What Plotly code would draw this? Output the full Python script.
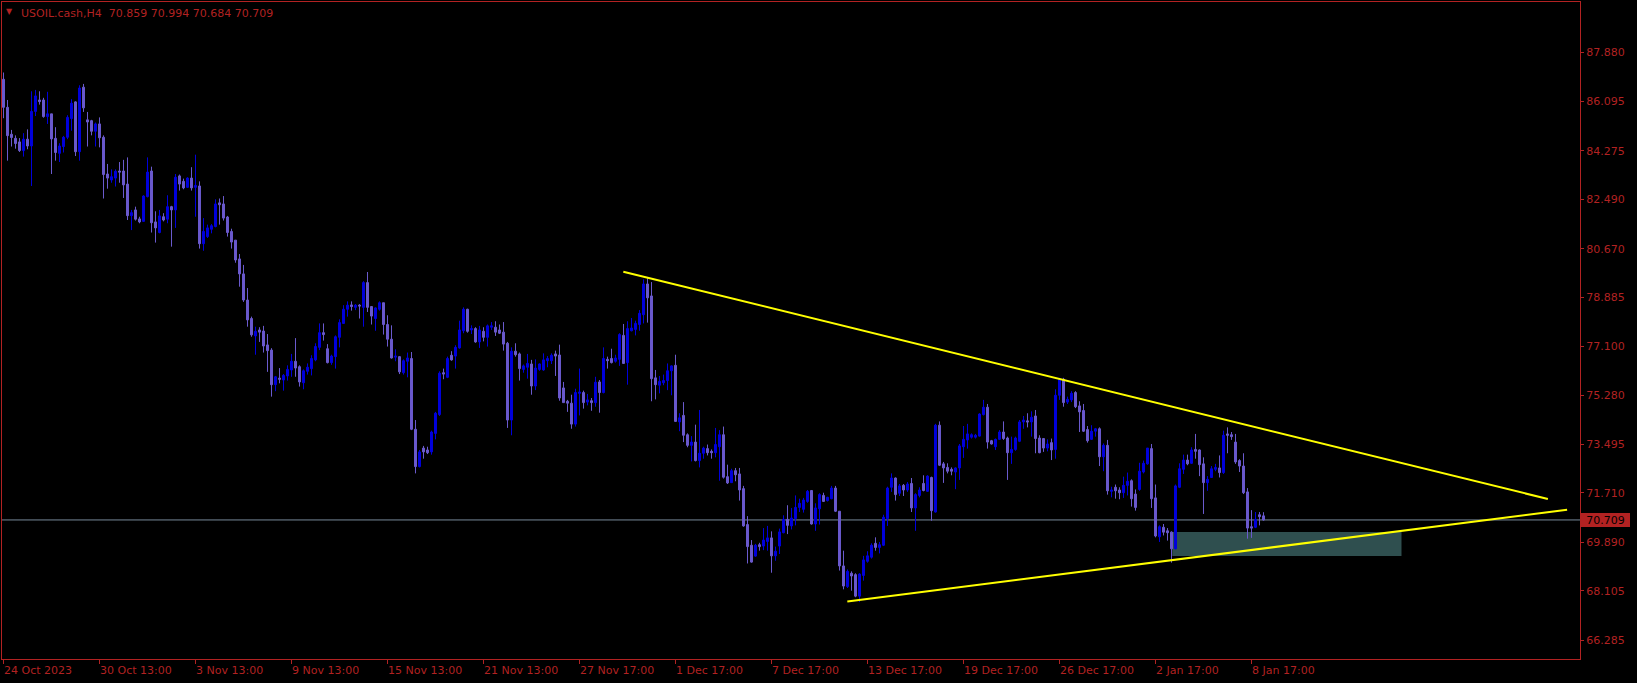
import plotly.graph_objects as go

# USOIL.cash H4 bars, oldest first
opens = [
    86.90, 85.87, 84.88, 84.73, 84.60, 84.28, 84.70, 84.45, 85.72, 86.14,
    86.14, 85.53, 85.63, 84.73, 84.18, 84.43, 84.77, 85.46, 86.07, 84.24,
    86.61, 85.41, 85.38, 84.99, 85.26, 84.77, 83.42, 83.20, 83.27, 83.53,
    83.53, 83.05, 81.89, 82.10, 81.77, 81.68, 82.59, 83.53, 81.66, 81.27,
    81.85, 81.76, 82.22, 82.10, 83.35, 83.15, 82.93, 83.27, 82.93, 82.98,
    80.86, 81.12, 81.39, 81.49, 82.36, 82.32, 81.84, 81.31, 80.99, 80.30,
    79.75, 78.79, 78.11, 77.47, 77.69, 77.65, 77.14, 76.95, 75.68, 75.92,
    75.85, 76.00, 76.22, 76.54, 76.34, 75.75, 76.17, 76.27, 76.59, 77.05,
    77.59, 77.00, 76.49, 76.71, 77.42, 77.93, 78.45, 78.61, 78.52, 78.60,
    78.52, 79.43, 78.55, 78.11, 78.45, 78.69, 77.89, 77.35, 76.69, 76.71,
    76.12, 76.54, 76.64, 74.04, 72.67, 73.35, 73.28, 73.21, 73.89, 74.58,
    76.12, 75.95, 76.76, 76.73, 77.03, 77.66, 78.45, 77.69, 77.74, 77.25,
    77.64, 77.42, 77.79, 77.79, 77.69, 77.61, 77.20, 74.38, 76.91, 76.81,
    76.24, 76.32, 76.44, 75.63, 76.24, 76.22, 76.56, 76.56, 76.81, 76.77,
    75.56, 75.07, 75.00, 74.23, 75.36, 75.39, 75.04, 75.09, 75.02, 75.78,
    75.39, 76.61, 76.64, 76.54, 76.61, 77.49, 76.49, 77.66, 77.71, 77.89,
    78.25, 79.38, 78.94, 75.93, 75.66, 75.75, 75.83, 76.19, 76.39, 74.31,
    74.55, 73.84, 73.45, 73.57, 72.89, 73.16, 73.33, 73.23, 73.18, 73.40,
    73.84, 72.30, 72.08, 72.52, 72.40, 71.86, 70.54, 69.78, 69.38, 69.80,
    69.75, 69.92, 70.05, 69.39, 69.75, 70.24, 70.73, 70.49, 70.76, 71.17,
    71.10, 71.39, 71.79, 70.56, 71.12, 71.61, 71.42, 71.49, 71.88, 71.03,
    69.02, 68.26, 68.75, 68.70, 67.91, 68.67, 69.19, 69.34, 69.85, 69.70,
    69.78, 70.76, 71.91, 72.25, 71.69, 71.98, 71.81, 72.05, 71.15, 71.61,
    72.05, 71.76, 72.27, 71.00, 74.19, 72.77, 72.64, 72.57, 72.47, 72.62,
    73.40, 73.65, 73.75, 73.75, 73.79, 74.58, 74.85, 73.62, 73.40, 73.67,
    73.94, 73.72, 73.18, 73.30, 73.60, 74.31, 74.35, 74.31, 74.53, 73.72,
    73.70, 73.35, 73.55, 73.30, 75.29, 75.88, 75.04, 75.12, 75.39, 74.90,
    74.73, 74.03, 73.67, 73.97, 74.06, 73.03, 73.45, 71.76, 71.91, 71.81,
    71.71, 71.98, 72.15, 71.66, 71.83, 72.47, 72.77, 73.33, 71.52, 70.09,
    70.44, 70.31, 70.26, 69.65, 71.91, 72.57, 72.91, 72.79, 73.30, 73.28,
    72.77, 72.08, 72.27, 72.57, 72.62, 72.45, 73.87, 73.84, 73.57, 72.89,
    72.69, 71.74, 70.46, 70.44, 70.90, 70.859,
]
highs = [
    87.15, 86.14, 85.04, 84.84, 84.74, 84.92, 85.06, 86.46, 86.51, 86.46,
    86.22, 86.44, 85.63, 85.14, 84.55, 84.82, 85.58, 86.17, 86.09, 86.68,
    86.73, 85.70, 85.41, 85.31, 85.50, 84.84, 83.79, 83.59, 83.59, 83.86,
    83.94, 84.03, 82.10, 82.22, 81.85, 82.64, 84.03, 83.69, 82.05, 82.10,
    81.98, 82.64, 82.25, 83.42, 83.40, 83.25, 83.30, 83.67, 84.13, 83.15,
    81.80, 81.56, 81.58, 82.49, 82.52, 82.61, 81.88, 81.41, 80.99, 80.48,
    80.08, 79.23, 78.18, 77.81, 77.79, 77.84, 77.54, 77.02, 76.00, 76.29,
    76.07, 76.39, 76.81, 77.39, 76.39, 76.24, 76.46, 76.76, 77.20, 77.93,
    77.93, 77.17, 76.78, 77.49, 78.08, 78.60, 78.74, 78.74, 78.64, 78.64,
    79.48, 79.82, 78.57, 78.52, 78.74, 78.69, 78.23, 77.86, 76.98, 76.73,
    76.61, 76.86, 76.88, 74.38, 73.28, 73.43, 73.40, 73.99, 74.68, 76.17,
    76.27, 76.71, 76.91, 77.13, 78.03, 78.52, 78.47, 77.86, 77.79, 77.84,
    77.79, 77.89, 77.98, 78.01, 77.89, 77.98, 77.25, 77.05, 77.20, 76.86,
    76.42, 76.81, 76.59, 76.61, 76.46, 76.83, 76.73, 76.83, 76.93, 77.15,
    75.78, 75.12, 75.31, 75.53, 76.27, 75.46, 75.34, 75.19, 75.97, 75.85,
    77.05, 76.71, 77.00, 76.78, 77.57, 77.91, 78.01, 78.13, 78.03, 78.42,
    79.55, 79.62, 79.45, 76.22, 76.00, 76.05, 76.46, 76.39, 76.78, 74.63,
    75.04, 73.89, 73.79, 74.21, 74.75, 73.40, 73.48, 73.30, 74.09, 74.01,
    74.14, 72.74, 72.59, 72.62, 72.62, 71.96, 70.85, 69.97, 69.83, 69.87,
    70.41, 70.49, 70.29, 69.73, 70.39, 70.88, 71.25, 71.15, 71.61, 71.49,
    71.52, 71.81, 71.81, 71.32, 71.69, 71.71, 71.56, 71.96, 71.96, 71.03,
    69.58, 68.89, 68.82, 68.75, 68.75, 69.39, 69.56, 69.85, 70.07, 69.90,
    70.90, 71.93, 72.42, 72.27, 72.03, 72.03, 72.10, 72.25, 71.69, 71.91,
    72.35, 72.35, 72.30, 74.24, 74.33, 72.84, 72.79, 72.64, 72.64, 73.50,
    74.16, 74.24, 73.89, 73.87, 74.63, 75.12, 74.97, 73.65, 73.70, 74.01,
    74.33, 73.77, 73.77, 73.77, 74.38, 74.53, 74.63, 74.70, 74.75, 73.82,
    73.72, 73.67, 73.70, 75.51, 75.93, 75.93, 75.24, 75.44, 75.44, 75.07,
    74.97, 74.16, 74.19, 74.09, 74.11, 73.52, 73.65, 71.93, 72.01, 71.91,
    72.30, 72.45, 72.20, 71.83, 72.81, 72.89, 73.35, 73.50, 72.01, 70.51,
    70.56, 70.41, 70.29, 72.01, 72.79, 73.11, 73.11, 73.38, 73.87, 73.30,
    73.01, 72.32, 72.69, 72.77, 73.08, 73.99, 74.11, 73.94, 73.87, 72.94,
    73.16, 71.88, 71.07, 71.00, 71.00, 70.994,
]
lows = [
    85.47, 83.91, 84.43, 84.35, 84.23, 84.06, 84.33, 82.98, 85.55, 85.97,
    85.49, 85.26, 83.42, 83.91, 83.86, 84.21, 84.70, 85.01, 84.08, 83.91,
    85.70, 84.43, 84.84, 84.43, 84.40, 82.52, 82.88, 83.10, 82.96, 83.10,
    82.54, 81.73, 81.36, 81.71, 81.61, 81.66, 82.56, 81.27, 80.90, 81.24,
    81.68, 81.61, 80.75, 81.44, 82.81, 82.86, 82.91, 82.81, 81.85, 80.68,
    80.60, 81.07, 81.24, 81.46, 81.56, 81.71, 81.12, 80.68, 80.16, 79.28,
    78.72, 77.81, 77.44, 76.78, 77.25, 76.86, 76.15, 75.24, 75.44, 75.73,
    75.46, 75.83, 75.97, 75.97, 75.61, 75.51, 76.05, 76.02, 76.54, 76.95,
    77.30, 76.46, 76.41, 76.27, 77.05, 77.91, 78.18, 78.40, 78.42, 78.11,
    77.81, 78.35, 77.89, 77.66, 78.40, 77.52, 77.08, 76.64, 76.54, 76.07,
    76.05, 75.95, 74.01, 72.42, 72.64, 72.96, 73.13, 73.11, 73.67, 74.53,
    75.88, 75.92, 76.56, 76.27, 77.00, 77.57, 77.59, 77.54, 77.22, 77.03,
    77.27, 77.08, 77.69, 77.47, 77.54, 76.93, 74.09, 73.82, 76.71, 75.83,
    76.12, 75.90, 75.31, 75.48, 76.19, 76.19, 76.32, 76.44, 76.00, 75.09,
    75.02, 74.68, 74.06, 74.14, 74.55, 74.80, 74.92, 74.72, 74.87, 74.65,
    75.36, 76.27, 76.46, 76.49, 76.37, 76.44, 75.68, 77.64, 77.49, 77.66,
    77.93, 77.96, 75.07, 75.14, 75.36, 75.66, 75.48, 75.29, 74.31, 73.97,
    73.57, 73.38, 72.86, 72.86, 72.64, 72.96, 73.08, 72.96, 73.01, 72.15,
    72.23, 72.03, 72.07, 72.13, 71.42, 70.46, 69.11, 69.14, 69.36, 69.58,
    69.60, 69.58, 68.77, 69.21, 69.46, 70.22, 70.19, 70.36, 70.51, 71.00,
    70.98, 71.34, 70.54, 70.31, 70.54, 71.37, 71.39, 71.47, 71.00, 68.85,
    68.16, 68.21, 68.11, 67.87, 67.69, 68.48, 69.14, 69.29, 69.58, 69.48,
    69.75, 70.49, 71.74, 71.42, 71.59, 71.59, 71.74, 71.00, 70.31, 71.54,
    71.76, 71.74, 70.68, 70.98, 72.69, 72.07, 72.42, 72.35, 71.84, 72.18,
    72.99, 73.33, 73.70, 73.70, 73.77, 74.55, 73.33, 73.48, 73.28, 73.65,
    73.65, 72.18, 72.77, 73.25, 73.57, 74.06, 74.11, 73.77, 73.16, 73.16,
    73.21, 73.23, 72.91, 72.96, 75.12, 74.87, 74.97, 75.04, 74.82, 73.94,
    73.94, 73.55, 73.65, 73.77, 72.69, 72.50, 71.64, 71.54, 71.49, 71.47,
    71.52, 71.61, 71.20, 71.05, 71.78, 72.42, 72.74, 71.15, 70.07, 69.90,
    70.14, 69.95, 69.14, 69.63, 71.88, 72.40, 72.72, 72.77, 72.96, 72.32,
    70.93, 71.78, 72.25, 72.50, 72.27, 72.40, 73.16, 73.65, 72.77, 72.47,
    71.66, 70.02, 70.05, 70.41, 70.51, 70.684,
]
closes = [
    85.87, 84.83, 84.76, 84.54, 84.28, 84.70, 84.45, 85.72, 86.29, 86.08,
    85.53, 85.63, 84.71, 84.21, 84.45, 84.77, 85.50, 86.02, 84.24, 86.58,
    85.85, 85.33, 84.99, 85.26, 84.75, 83.40, 83.27, 83.32, 83.52, 83.49,
    83.02, 81.89, 82.00, 81.76, 81.66, 82.61, 83.49, 81.63, 81.44, 81.88,
    81.73, 82.22, 82.10, 83.30, 83.05, 82.91, 83.27, 82.91, 83.00, 80.86,
    81.31, 81.44, 81.52, 82.32, 82.29, 81.80, 81.27, 80.92, 80.26, 79.75,
    78.79, 78.06, 77.51, 77.64, 77.61, 77.10, 76.93, 75.68, 75.97, 75.88,
    76.02, 76.24, 76.54, 76.29, 75.78, 76.19, 76.32, 76.64, 77.08, 77.59,
    77.52, 76.49, 76.73, 77.44, 77.96, 78.45, 78.60, 78.55, 78.60, 78.57,
    79.43, 78.52, 78.20, 78.50, 78.69, 77.89, 77.35, 76.66, 76.73, 76.15,
    76.56, 76.66, 74.04, 72.67, 73.21, 73.21, 73.18, 73.94, 74.63, 76.10,
    76.07, 76.64, 76.59, 77.05, 77.69, 78.45, 77.64, 77.74, 77.25, 77.69,
    77.42, 77.84, 77.84, 77.61, 77.57, 77.17, 74.38, 76.91, 76.78, 76.27,
    76.37, 76.46, 75.63, 76.29, 76.44, 76.59, 76.64, 76.76, 76.73, 75.19,
    75.02, 75.00, 74.23, 75.39, 75.41, 75.02, 75.12, 75.02, 75.77, 75.39,
    76.64, 76.56, 76.49, 76.66, 77.52, 76.46, 77.74, 77.76, 77.93, 78.30,
    79.38, 78.87, 75.90, 75.68, 75.80, 75.83, 76.19, 76.37, 74.33, 74.46,
    73.82, 73.45, 73.57, 72.89, 73.16, 73.35, 73.18, 73.18, 73.48, 73.84,
    72.28, 72.07, 72.52, 72.37, 71.81, 70.49, 69.73, 69.16, 69.78, 69.73,
    69.97, 70.05, 69.39, 69.56, 70.27, 70.73, 70.51, 70.78, 71.17, 71.32,
    71.44, 71.76, 70.56, 71.15, 71.64, 71.39, 71.54, 71.88, 71.03, 69.02,
    68.28, 68.82, 68.65, 67.91, 68.72, 69.24, 69.39, 69.78, 69.70, 69.80,
    70.81, 71.88, 72.25, 71.64, 71.96, 71.81, 72.03, 71.15, 71.64, 71.81,
    71.79, 72.32, 71.05, 74.19, 72.72, 72.62, 72.50, 72.50, 72.62, 73.43,
    73.67, 73.87, 73.84, 73.82, 74.60, 74.85, 73.57, 73.50, 73.67, 73.94,
    73.70, 73.18, 73.30, 73.72, 74.31, 74.38, 74.31, 74.48, 73.70, 73.18,
    73.35, 73.50, 73.28, 75.29, 75.88, 75.02, 75.14, 75.36, 74.87, 74.68,
    73.97, 73.62, 73.97, 74.06, 73.03, 73.45, 71.78, 71.81, 71.78, 71.71,
    71.98, 72.13, 71.49, 71.17, 72.50, 72.79, 73.35, 71.49, 70.12, 70.46,
    70.26, 70.24, 69.65, 71.96, 72.59, 72.91, 72.77, 73.28, 73.23, 72.74,
    72.08, 72.20, 72.59, 72.64, 72.45, 73.82, 73.82, 73.77, 72.84, 72.69,
    71.71, 70.41, 70.41, 70.73, 70.83, 70.709,
]
bars = list(range(len(closes)))

# time axis labels (bar index -> label)
time_ticks = [0, 24, 48, 72, 96, 120, 144, 168, 192, 216, 240, 264, 288, 312]
time_labels = [
    "24 Oct 2023", "30 Oct 13:00", "3 Nov 13:00", "9 Nov 13:00", "15 Nov 13:00",
    "21 Nov 13:00", "27 Nov 17:00", "1 Dec 17:00", "7 Dec 17:00", "13 Dec 17:00",
    "19 Dec 17:00", "26 Dec 17:00", "2 Jan 17:00", "8 Jan 17:00",
]
price_ticks = [66.285, 68.105, 69.890, 71.710, 73.495, 75.280, 77.100,
               78.885, 80.670, 82.490, 84.275, 86.095, 87.880]

# drawn objects: triangle trendlines and a demand zone
upper_x = [154.95, 386.1]
upper_y = [79.83, 71.48]
lower_x = [210.95, 390.9]
lower_y = [67.71, 71.085]
zone_x = [292.2, 349.5]
zone_y = [69.38, 70.27]

RED = "#b22222"
BULL = "#0000dc"
BEAR = "#6a5acd"
FONT = "DejaVu Sans"

fig = go.Figure()

fig.add_trace(
    go.Candlestick(
        x=bars, open=opens, high=highs, low=lows, close=closes,
        increasing=dict(line=dict(color=BULL, width=1), fillcolor=BULL),
        decreasing=dict(line=dict(color=BEAR, width=1), fillcolor=BEAR),
        whiskerwidth=0,
        showlegend=False,
        hoverinfo="skip",
    )
)

for xs, ys in [(upper_x, upper_y), (lower_x, lower_y)]:
    fig.add_trace(
        go.Scatter(x=xs, y=ys, mode="lines", line=dict(color="#ffff00", width=2),
                   showlegend=False, hoverinfo="skip")
    )

# demand zone behind the candles
fig.add_shape(type="rect", x0=zone_x[0], x1=zone_x[1], y0=zone_y[0], y1=zone_y[1],
              xref="x", yref="y", fillcolor="#2f4f4f", line_width=0, layer="below")

# bid line
last = closes[-1]
fig.add_shape(type="line", xref="paper", x0=0, x1=1, yref="y", y0=last, y1=last,
              line=dict(color="#778899", width=1), layer="below")

annotations = []
for t, lab in zip(time_ticks, time_labels):
    annotations.append(dict(
        x=t, xref="x", y=0, yref="paper", text=lab, showarrow=False,
        xanchor="left", yanchor="top", xshift=-2, yshift=-3,
        font=dict(family=FONT, size=11, color=RED),
    ))

annotations.append(dict(
    x=0, xref="paper", y=1, yref="paper", text="▼", showarrow=False,
    xanchor="left", yanchor="top", xshift=2, yshift=-3,
    font=dict(family=FONT, size=8, color=RED),
))
annotations.append(dict(
    x=0, xref="paper", y=1, yref="paper",
    text=f"USOIL.cash,H4  {opens[-1]:.3f} {highs[-1]:.3f} {lows[-1]:.3f} {closes[-1]:.3f}",
    showarrow=False, xanchor="left", yanchor="top", xshift=17, yshift=-3,
    font=dict(family=FONT, size=11, color=RED),
))
annotations.append(dict(
    x=1, xref="paper", y=last, yref="y", text=f"{last:.3f}", showarrow=False,
    xanchor="left", yanchor="middle", xshift=1,
    width=47, height=12, borderpad=1, borderwidth=0, bgcolor=RED,
    font=dict(family=FONT, size=11, color="#000000"),
))

fig.update_layout(
    width=1637, height=683,
    margin=dict(l=2, r=57, t=2, b=24),
    paper_bgcolor="#000000", plot_bgcolor="#000000",
    font=dict(family=FONT, size=11, color=RED),
    showlegend=False,
    annotations=annotations,
)
fig.update_xaxes(
    range=[-0.375, 394.125], rangeslider_visible=False,
    showgrid=False, zeroline=False, showline=True, mirror=True,
    linecolor=RED, linewidth=1,
    tickmode="array", tickvals=time_ticks, showticklabels=False,
    ticks="outside", ticklen=4, tickcolor=RED,
)
fig.update_yaxes(
    range=[65.60, 89.74], side="right",
    showgrid=False, zeroline=False, showline=True, mirror=True,
    linecolor=RED, linewidth=1,
    tickmode="array", tickvals=price_ticks,
    ticktext=[f"{p:.3f}" for p in price_ticks],
    ticks="outside", ticklen=3, tickcolor=RED,
    tickfont=dict(family=FONT, size=11, color=RED),
)

# page has a default body margin; remove it so the chart fills the window
fig.write_html(
    "out.html",
    config={"displayModeBar": False},
    post_script="document.body.style.margin='0';document.body.style.background='#000';",
)
